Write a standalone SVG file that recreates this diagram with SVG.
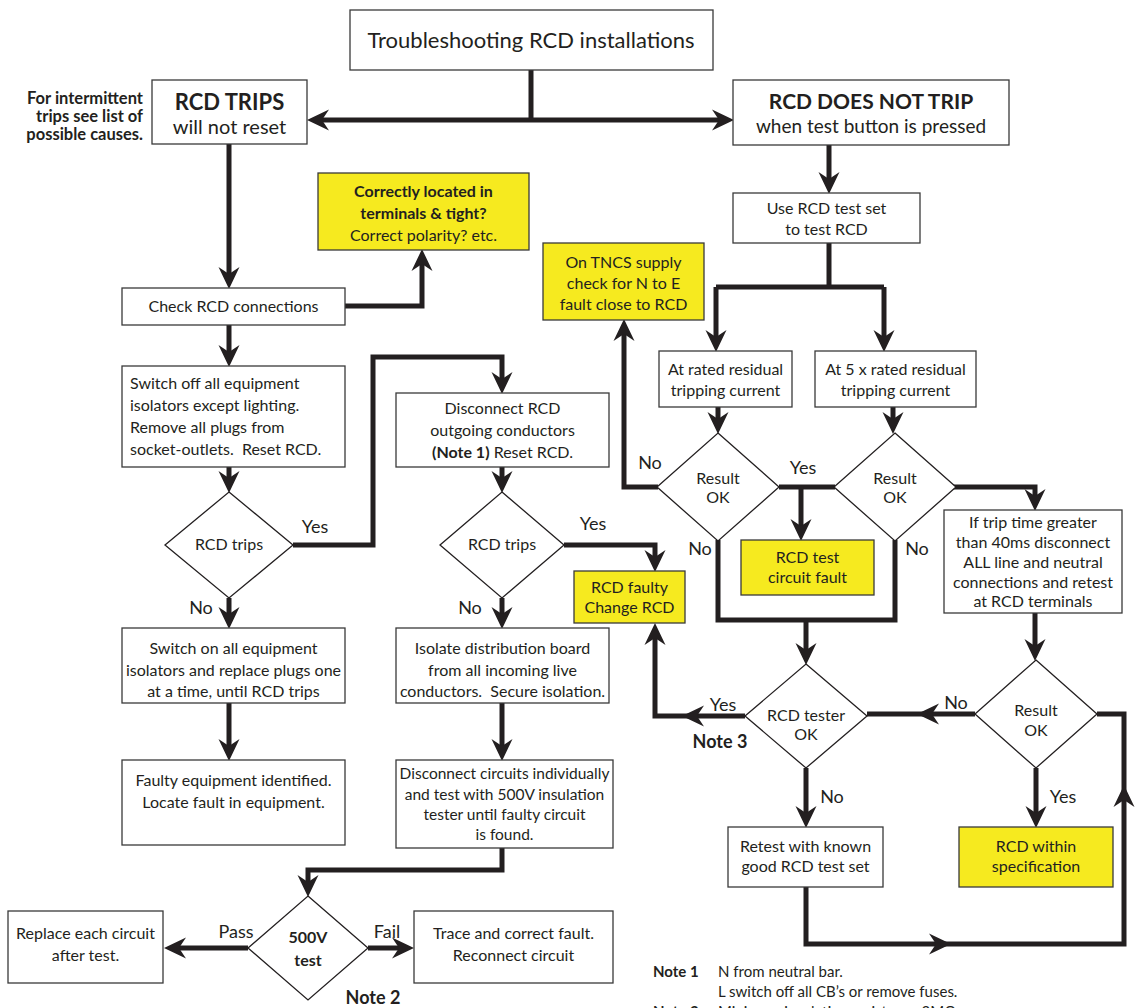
<svg xmlns="http://www.w3.org/2000/svg" width="1135" height="1008" viewBox="0 0 1135 1008">
<style>
.bx{fill:#fff;stroke:#3a3a3a;stroke-width:1.3}
.yl{fill:#f6ea1f;stroke:#3a3a3a;stroke-width:1.3}
.dm{fill:#fff;stroke:#231f20;stroke-width:1.3}
.t{font-family:Lato,"Liberation Sans",sans-serif;font-size:16px;fill:#231f20}
.c{text-anchor:middle}
.b{font-weight:bold}
.lb{font-family:Lato,"Liberation Sans",sans-serif;font-size:18px;fill:#231f20;text-anchor:middle}
.cn path{fill:none;stroke:#231f20;stroke-width:5;stroke-linejoin:miter}
</style>
<defs>
<marker id="ar" markerUnits="userSpaceOnUse" markerWidth="24" markerHeight="24" viewBox="0 -12 24 24" refX="14" refY="0" orient="auto" overflow="visible">
<path d="M-1,-10.5 L21,0 L-1,10.5 L6,0 z" fill="#231f20"/>
</marker>
</defs>
<rect width="1135" height="1008" fill="#fff"/>

<g class="cn">
<path d="M531,70 V120"/>
<path d="M531,120 H314" marker-end="url(#ar)"/>
<path d="M531,120 H727" marker-end="url(#ar)"/>
<path d="M229,144 V282" marker-end="url(#ar)"/>
<path d="M345,306 H422 V256" marker-end="url(#ar)"/>
<path d="M229,325 V360" marker-end="url(#ar)"/>
<path d="M229,467 V486" marker-end="url(#ar)"/>
<path d="M293,545 H373 V357 H502 V387" marker-end="url(#ar)"/>
<path d="M229,598 V622" marker-end="url(#ar)"/>
<path d="M229,703 V754" marker-end="url(#ar)"/>
<path d="M502,467 V486" marker-end="url(#ar)"/>
<path d="M564,545 H655 V565" marker-end="url(#ar)"/>
<path d="M502,598 V622" marker-end="url(#ar)"/>
<path d="M502,703 V754" marker-end="url(#ar)"/>
<path d="M502,848 V870 H308 V890" marker-end="url(#ar)"/>
<path d="M248,948 H171" marker-end="url(#ar)"/>
<path d="M368,948 H407" marker-end="url(#ar)"/>
<path d="M829,145 V187" marker-end="url(#ar)"/>
<path d="M829,243 V287"/>
<path d="M716,287 H884"/>
<path d="M716,287 V345" marker-end="url(#ar)"/>
<path d="M884,287 V345" marker-end="url(#ar)"/>
<path d="M718,407 V427" marker-end="url(#ar)"/>
<path d="M893,407 V427" marker-end="url(#ar)"/>
<path d="M779,487 H835"/>
<path d="M801,487 V534" marker-end="url(#ar)"/>
<path d="M658,487 H624 V326" marker-end="url(#ar)"/>
<path d="M718,540 V620 H806"/>
<path d="M895,540 V620 H806"/>
<path d="M806,620 V658" marker-end="url(#ar)"/>
<path d="M953,487 H1035 V504" marker-end="url(#ar)"/>
<path d="M1035,613 V654" marker-end="url(#ar)"/>
<path d="M975,714 H924" marker-end="url(#ar)"/>
<path d="M928,714 H867"/>
<path d="M745,716 H689" marker-end="url(#ar)"/>
<path d="M694,716 H655 V630" marker-end="url(#ar)"/>
<path d="M806,768 V821" marker-end="url(#ar)"/>
<path d="M1036,768 V821" marker-end="url(#ar)"/>
<path d="M806,887 V944 H944" marker-end="url(#ar)"/>
<path d="M940,944 H1124 V792" marker-end="url(#ar)"/>
<path d="M1124,796 V714 H1097"/>
</g>

<g id="title"><rect class="bx" x="350" y="10" width="363" height="60"/><text class="t c" x="531" y="48" style="font-size:22px">Troubleshooting RCD installations</text></g>

<g id="intermittent"><text class="t b" text-anchor="end" style="font-size:16.5px"><tspan x="143" y="104">For intermittent</tspan><tspan x="143" y="122">trips see list of</tspan><tspan x="143" y="140">possible causes.</tspan></text></g>

<g id="trips"><rect class="bx" x="152" y="80" width="155" height="64"/><text class="t c b" x="229.5" y="110" style="font-size:22px">RCD TRIPS</text><text class="t c" x="229.5" y="134" style="font-size:20px">will not reset</text></g>

<g id="notrip"><rect class="bx" x="733" y="80" width="276" height="65"/><text class="t c b" x="871" y="109" style="font-size:21px">RCD DOES NOT TRIP</text><text class="t c" x="871" y="133" style="font-size:19px">when test button is pressed</text></g>

<g id="correct"><rect class="yl" x="318" y="173" width="211" height="77"/><text class="t c"><tspan class="b" x="423.5" y="197">Correctly located in</tspan><tspan class="b" x="423.5" y="219">terminals &amp; tight?</tspan><tspan x="423.5" y="241">Correct polarity? etc.</tspan></text></g>

<g id="check"><rect class="bx" x="122" y="288" width="223" height="37"/><text class="t c" x="233.5" y="312">Check RCD connections</text></g>

<g id="switchoff"><rect class="bx" x="122" y="366" width="223" height="101"/><text class="t"><tspan x="130" y="389">Switch off all equipment</tspan><tspan x="130" y="411">isolators except lighting.</tspan><tspan x="130" y="433">Remove all plugs from</tspan><tspan x="130" y="455" xml:space="preserve">socket-outlets.  Reset RCD.</tspan></text></g>

<g id="dtrips1"><polygon class="dm" points="229,492 293,545 229,598 165,545"/><text class="t c" x="229" y="550">RCD trips</text></g>

<g id="switchon"><rect class="bx" x="122" y="628" width="223" height="75"/><text class="t c"><tspan x="233.5" y="654">Switch on all equipment</tspan><tspan x="233.5" y="676">isolators and replace plugs one</tspan><tspan x="233.5" y="697">at a time, until RCD trips</tspan></text></g>

<g id="faulty"><rect class="bx" x="122" y="760" width="223" height="85"/><text class="t c"><tspan x="233.5" y="786">Faulty equipment identified.</tspan><tspan x="233.5" y="808">Locate fault in equipment.</tspan></text></g>

<g id="disconnect"><rect class="bx" x="396" y="393" width="213" height="74"/><text class="t c"><tspan x="502.5" y="414">Disconnect RCD</tspan><tspan x="502.5" y="436">outgoing conductors</tspan><tspan x="502.5" y="458"><tspan class="b">(Note 1)</tspan> Reset RCD.</tspan></text></g>

<g id="dtrips2"><polygon class="dm" points="502,492 564,545 502,598 440,545"/><text class="t c" x="502" y="550">RCD trips</text></g>

<g id="isolate"><rect class="bx" x="396" y="628" width="213" height="75"/><text class="t c"><tspan x="502.5" y="654">Isolate distribution board</tspan><tspan x="502.5" y="676">from all incoming live</tspan><tspan x="502.5" y="697" xml:space="preserve">conductors.  Secure isolation.</tspan></text></g>

<g id="disccircuits"><rect class="bx" x="396" y="760" width="217" height="88"/><text class="t c" style="font-size:15.5px"><tspan x="504.5" y="779">Disconnect circuits individually</tspan><tspan x="504.5" y="800">and test with 500V insulation</tspan><tspan x="504.5" y="820">tester until faulty circuit</tspan><tspan x="504.5" y="840">is found.</tspan></text></g>

<g id="test500"><polygon class="dm" points="308,896 368,948 308,1000 248,948"/><text class="t c b"><tspan x="308" y="943">500V</tspan><tspan x="308" y="966">test</tspan></text></g>

<g id="replace"><rect class="bx" x="8" y="911" width="155" height="72"/><text class="t c"><tspan x="85.5" y="939">Replace each circuit</tspan><tspan x="85.5" y="961">after test.</tspan></text></g>

<g id="trace"><rect class="bx" x="414" y="911" width="199" height="72"/><text class="t c"><tspan x="513.5" y="939">Trace and correct fault.</tspan><tspan x="513.5" y="961">Reconnect circuit</tspan></text></g>

<g id="rcdfaulty"><rect class="yl" x="574" y="571" width="111" height="52"/><text class="t c"><tspan x="629.5" y="593">RCD faulty</tspan><tspan x="629.5" y="613">Change RCD</tspan></text></g>

<g id="useset"><rect class="bx" x="733" y="193" width="187" height="50"/><text class="t c"><tspan x="826.5" y="214">Use RCD test set</tspan><tspan x="826.5" y="235">to test RCD</tspan></text></g>

<g id="tncs"><rect class="yl" x="543" y="243" width="161" height="77"/><text class="t c"><tspan x="623.5" y="268">On TNCS supply</tspan><tspan x="623.5" y="289">check for N to E</tspan><tspan x="623.5" y="310">fault close to RCD</tspan></text></g>

<g id="rated"><rect class="bx" x="659" y="351" width="133" height="56"/><text class="t c"><tspan x="725.5" y="375">At rated residual</tspan><tspan x="725.5" y="396">tripping current</tspan></text></g>

<g id="rated5"><rect class="bx" x="815" y="351" width="161" height="56"/><text class="t c"><tspan x="895.5" y="375">At 5 x rated residual</tspan><tspan x="895.5" y="396">tripping current</tspan></text></g>

<g id="result1"><polygon class="dm" points="718,433 779,487 718,541 657,487"/><text class="t c"><tspan x="718" y="484">Result</tspan><tspan x="718" y="503">OK</tspan></text></g>

<g id="result2"><polygon class="dm" points="895,433 956,487 895,541 834,487"/><text class="t c"><tspan x="895" y="484">Result</tspan><tspan x="895" y="503">OK</tspan></text></g>

<g id="testfault"><rect class="yl" x="741" y="540" width="133" height="55"/><text class="t c"><tspan x="807.5" y="563">RCD test</tspan><tspan x="807.5" y="583">circuit fault</tspan></text></g>

<g id="iftrip"><rect class="bx" x="944" y="510" width="178" height="103"/><text class="t c"><tspan x="1033" y="528">If trip time greater</tspan><tspan x="1033" y="548">than 40ms disconnect</tspan><tspan x="1033" y="568">ALL line and neutral</tspan><tspan x="1033" y="588">connections and retest</tspan><tspan x="1033" y="607">at RCD terminals</tspan></text></g>

<g id="result3"><polygon class="dm" points="1036,660 1097,714 1036,768 975,714"/><text class="t c"><tspan x="1036" y="716">Result</tspan><tspan x="1036" y="736">OK</tspan></text></g>

<g id="tester"><polygon class="dm" points="806,664 867,716 806,768 745,716"/><text class="t c"><tspan x="806" y="721">RCD tester</tspan><tspan x="806" y="740">OK</tspan></text></g>

<g id="retest"><rect class="bx" x="728" y="827" width="155" height="60"/><text class="t c"><tspan x="805.5" y="852">Retest with known</tspan><tspan x="805.5" y="872">good RCD test set</tspan></text></g>

<g id="spec"><rect class="yl" x="959" y="827" width="154" height="60"/><text class="t c"><tspan x="1036" y="852">RCD within</tspan><tspan x="1036" y="872">specification</tspan></text></g>

<g id="labels">
<text class="lb" x="315" y="533">Yes</text>
<text class="lb" x="201" y="614">No</text>
<text class="lb" x="593" y="530">Yes</text>
<text class="lb" x="470" y="614">No</text>
<text class="lb" x="236" y="938">Pass</text>
<text class="lb" x="387" y="938">Fail</text>
<text class="lb b" x="373" y="1004">Note 2</text>
<text class="lb" x="650" y="469">No</text>
<text class="lb" x="803" y="474">Yes</text>
<text class="lb" x="700" y="555">No</text>
<text class="lb" x="917" y="555">No</text>
<text class="lb" x="956" y="709">No</text>
<text class="lb" x="723" y="711">Yes</text>
<text class="lb b" x="720" y="748">Note 3</text>
<text class="lb" x="832" y="803">No</text>
<text class="lb" x="1063" y="803">Yes</text>
</g>

<g id="notes" class="t" style="font-size:15px">
<text x="653" y="977" class="b">Note 1</text>
<text x="718" y="977">N from neutral bar.</text>
<text x="718" y="997">L switch off all CB’s or remove fuses.</text>
<text x="653" y="1017" class="b">Note 2</text>
<text x="718" y="1017">Minimum insulation resistance 2MΩ</text>
</g>
</svg>
